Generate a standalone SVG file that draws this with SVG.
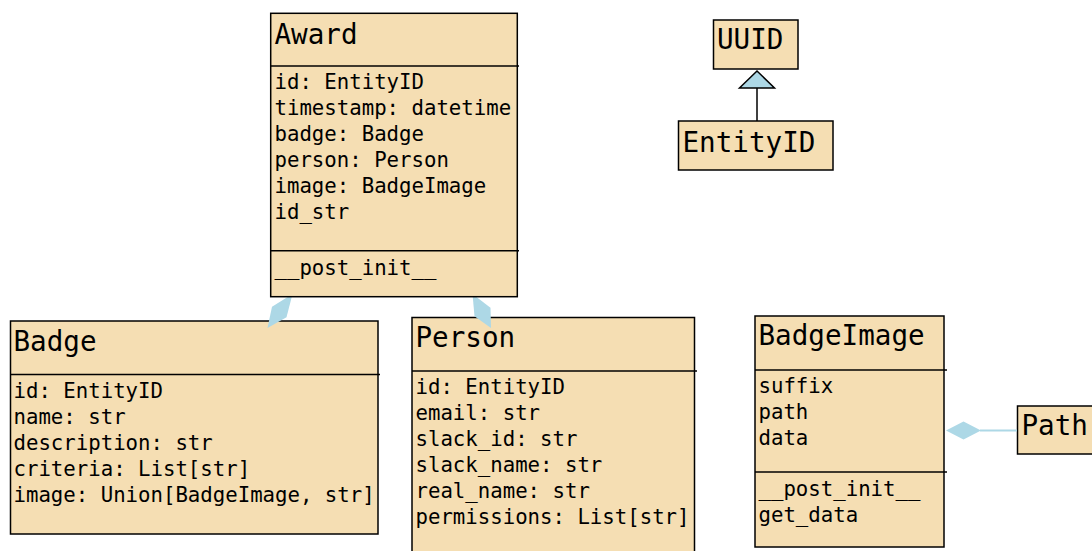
<svg xmlns="http://www.w3.org/2000/svg" width="1092" height="551" viewBox="0 0 1092 551">
<style>
.box{fill:#F5DEB3;stroke:#000;stroke-width:1.5}
.sep{stroke:#000;stroke-width:1.5}
.t{font-family:"DejaVu Sans Mono",monospace;font-size:27.6px;fill:#000}
.a{font-family:"DejaVu Sans Mono",monospace;font-size:20.7px;fill:#000}
.dia{fill:#ADD8E6;stroke:none}
.tri{fill:#ADD8E6;stroke:#000;stroke-width:1.5}
.ln{stroke:#000;stroke-width:1.5;fill:none}
.lb{stroke:#ADD8E6;stroke-width:2;fill:none}
</style>
<rect width="1092" height="551" fill="#fff"/>
<g id="Badge">
<rect class="box" x="10.5" y="321" width="367.5" height="213"/>
<line class="sep" x1="10.5" y1="374.5" x2="380" y2="374.5"/>
<text class="t" x="13.5" y="350.5">Badge</text>
<text class="a" x="13.5" y="398">id: EntityID</text>
<text class="a" x="13.5" y="424">name: str</text>
<text class="a" x="13.5" y="450">description: str</text>
<text class="a" x="13.5" y="476">criteria: List[str]</text>
<text class="a" x="13.5" y="502">image: Union[BadgeImage, str]</text>
</g>
<g id="Person">
<rect class="box" x="412" y="317.5" width="282.5" height="245"/>
<line class="sep" x1="412" y1="371" x2="697" y2="371"/>
<text class="t" x="415.5" y="346.5">Person</text>
<text class="a" x="415.5" y="394">id: EntityID</text>
<text class="a" x="415.5" y="420">email: str</text>
<text class="a" x="415.5" y="446">slack_id: str</text>
<text class="a" x="415.5" y="472">slack_name: str</text>
<text class="a" x="415.5" y="498">real_name: str</text>
<text class="a" x="415.5" y="524">permissions: List[str]</text>
</g>
<g id="BadgeImage">
<rect class="box" x="755" y="316" width="189" height="231"/>
<line class="sep" x1="755" y1="370" x2="947" y2="370"/>
<line class="sep" x1="755" y1="472" x2="947" y2="472"/>
<text class="t" x="758.5" y="344.5">BadgeImage</text>
<text class="a" x="758.5" y="393">suffix</text>
<text class="a" x="758.5" y="419">path</text>
<text class="a" x="758.5" y="445">data</text>
<text class="a" x="758.5" y="496">__post_init__</text>
<text class="a" x="758.5" y="522">get_data</text>
</g>
<g id="Path">
<rect class="box" x="1017.5" y="406" width="80" height="48"/>
<text class="t" x="1021.5" y="434.5">Path</text>
</g>
<g id="connectors">
<polygon class="dia" points="292.5,294 272,306.7 267.5,328 286.5,317.3"/>
<polygon class="dia" points="472.5,294 490.5,307.8 491,328 474.5,316.2"/>
<line class="lb" x1="980" y1="430.5" x2="1017" y2="430.5"/>
<polygon class="dia" points="946,430.5 963.5,421.5 981,430.5 963.5,439.5"/>
<line class="ln" x1="757" y1="88" x2="757" y2="121"/>
<polygon class="tri" points="757,71 739.5,88 774.5,88"/>
</g>
<g id="Award">
<rect class="box" x="270.7" y="13.3" width="246.6" height="283.4"/>
<line class="sep" x1="270.7" y1="66" x2="519" y2="66"/>
<line class="sep" x1="270.7" y1="250.7" x2="519" y2="250.7"/>
<text class="t" x="274.5" y="43.5">Award</text>
<text class="a" x="274.5" y="89">id: EntityID</text>
<text class="a" x="274.5" y="115">timestamp: datetime</text>
<text class="a" x="274.5" y="141">badge: Badge</text>
<text class="a" x="274.5" y="167">person: Person</text>
<text class="a" x="274.5" y="193">image: BadgeImage</text>
<text class="a" x="274.5" y="219">id_str</text>
<text class="a" x="274.5" y="275">__post_init__</text>
</g>
<g id="UUID">
<rect class="box" x="713.5" y="20" width="84.5" height="49"/>
<text class="t" x="717" y="48.5">UUID</text>
</g>
<g id="EntityID">
<rect class="box" x="678.5" y="121" width="154.5" height="49"/>
<text class="t" x="682.5" y="151.5">EntityID</text>
</g>
</svg>
